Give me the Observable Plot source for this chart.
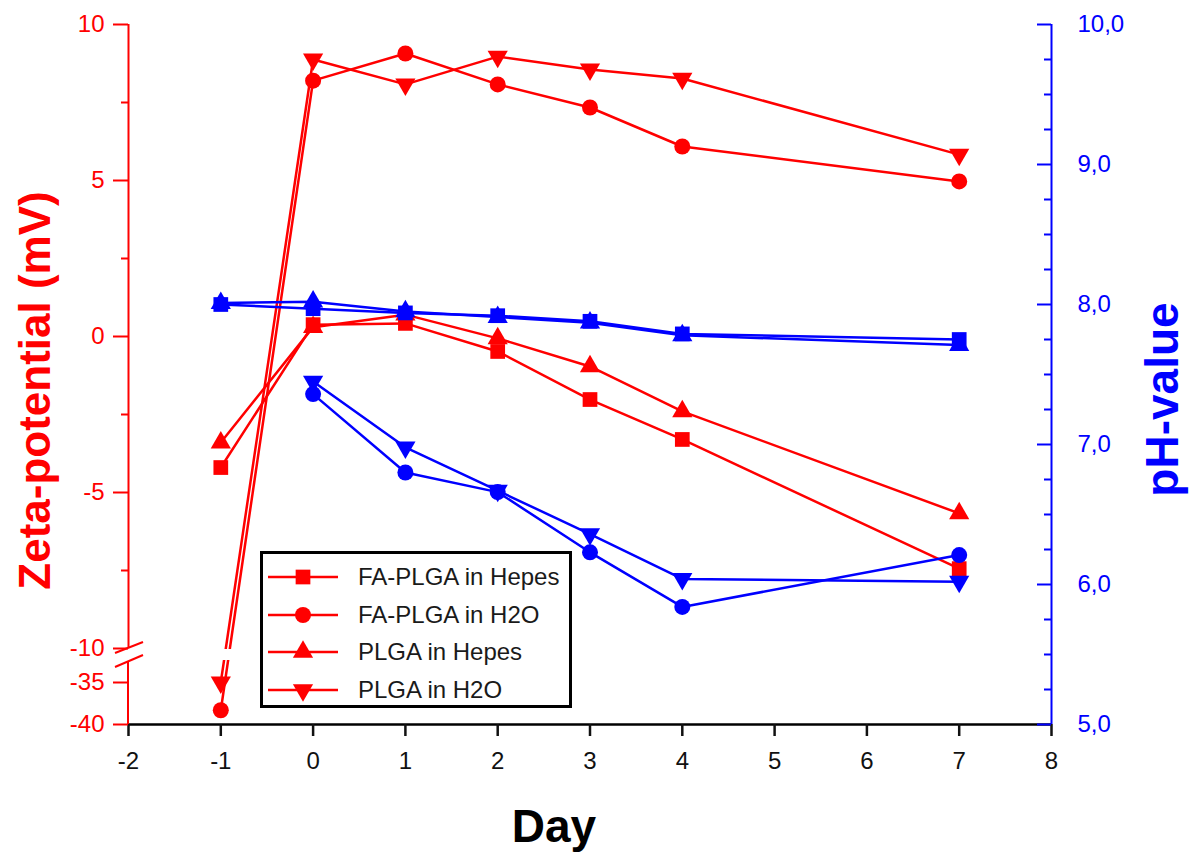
<!DOCTYPE html>
<html>
<head>
<meta charset="utf-8">
<script src="https://cdn.jsdelivr.net/npm/d3@7"></script>
<script src="https://cdn.jsdelivr.net/npm/@observablehq/plot@0.6"></script>
<style>
html, body { margin: 0; padding: 0; background: #fff; }
#wrap { position: relative; width: 1192px; height: 854px; font-family: "Liberation Sans", Arial, sans-serif; }
#wrap svg.plot, #wrap > svg { position: absolute; left: 0; top: 0; }
#legend { position: absolute; left: 260px; top: 551px; width: 312px; height: 157px; box-sizing: border-box;
  border: 3px solid #000; background: #fff; z-index: 5; }
.row { position: absolute; left: 5px; height: 30px; display: flex; align-items: center; }
.row span { font-size: 24px; color: #1a1a1a; margin-left: 20px; white-space: nowrap; }
</style>
</head>
<body>
<div id="wrap"></div>
<script>
// ---------------- data ----------------
const days = [-1, 0, 1, 2, 3, 4, 7];
const seriesNames = ["FA-PLGA in Hepes", "FA-PLGA in H2O", "PLGA in Hepes", "PLGA in H2O"];
const seriesSymbols = ["square", "circle", "triangle", "triangle-down"];

// Zeta-potential (mV), left axis
const zetaFaHepes   = [-4.2, 0.38, 0.42, -0.48, -2.02, -3.3, -7.44];
const zetaFaH2O     = [-38.3, 8.2, 9.07, 8.08, 7.34, 6.09, 4.97];
const zetaPlgaHepes = [-3.4, 0.3, 0.7, -0.06, -0.96, -2.4, -5.67];
const zetaPlgaH2O   = [-34.8, 8.88, 8.08, 8.97, 8.56, 8.27, 5.83];

// pH-value, right axis (no value on day -1 for the H2O samples)
const phFaHepes   = [8.0, 7.97, 7.94, 7.92, 7.88, 7.79, 7.75];
const phFaH2O     = [null, 7.36, 6.80, 6.66, 6.23, 5.84, 6.21];
const phPlgaHepes = [8.01, 8.02, 7.95, 7.91, 7.87, 7.78, 7.71];
const phPlgaH2O   = [null, 7.45, 6.98, 6.67, 6.36, 6.04, 6.02];

// ticks
const xTicks = [-2, -1, 0, 1, 2, 3, 4, 5, 6, 7, 8];
const zetaTicks = [-40, -35, -10, -5, 0, 5, 10];
const zetaMinorTicks = [-7.5, -2.5, 2.5, 7.5];
const zetaBreak = [-10, -35];          // axis break between these values
const phTicks = [5, 6, 7, 8, 9, 10];
const phMinorTicks = [5.25, 5.5, 5.75, 6.25, 6.5, 6.75, 7.25, 7.5, 7.75, 8.25, 8.5, 8.75, 9.25, 9.5, 9.75];

// ---------------- styling ----------------
const RED = "#ff0000", BLUE = "#0000ff";
const W = 1192, H = 854;
const M = {marginLeft: 128, marginRight: 141, marginTop: 24, marginBottom: 130};
const FONT = "Liberation Sans, Arial, sans-serif";
const symR = {"square": 8.3, "circle": 8, "triangle": 7.5, "triangle-down": 7.5};

function rows(vals, name) {
  return days.map((d, i) => ({day: d, v: vals[i], series: name})).filter(r => r.v != null);
}
const zetaSeries = [zetaFaHepes, zetaFaH2O, zetaPlgaHepes, zetaPlgaH2O].map((v, i) => rows(v, seriesNames[i]));
const phSeries = [phFaHepes, phFaH2O, phPlgaHepes, phPlgaH2O].map((v, i) => rows(v, seriesNames[i]));

function seriesMarks(data, idx, color) {
  const s = seriesSymbols[idx];
  return [
    Plot.line(data, {x: "day", y: "v", stroke: color, strokeWidth: 2.5}),
    Plot.dot(data, {x: "day", y: "v", fill: color, stroke: "none",
      symbol: s === "triangle-down" ? "triangle" : s, r: symR[s], rotate: s === "triangle-down" ? 180 : 0})
  ];
}

const yBottomPx = H - M.marginBottom;

// ---------------- main chart: zeta potential ----------------
const zetaOrder = [2, 0, 1, 3];
const breakMark = (index, scales) => {
  const ns = "http://www.w3.org/2000/svg";
  const g = document.createElementNS(ns, "g");
  const x0 = scales.x(-2);
  const yTop = scales.y(zetaBreak[0]);
  const yEnd = scales.y(-40);
  const mk = (tag, attrs) => { const e = document.createElementNS(ns, tag); for (const k in attrs) e.setAttribute(k, attrs[k]); g.appendChild(e); return e; };
  // gap in the data lines crossing the break
  mk("rect", {x: scales.x(-1.5), y: yTop + 1, width: scales.x(-0.5) - scales.x(-1.5), height: 11, fill: "#fff"});
  // lower axis segment
  mk("line", {x1: x0, x2: x0, y1: yTop + 13, y2: yEnd, stroke: RED, "stroke-width": 2});
  // break slashes
  mk("line", {x1: x0 - 13, y1: yTop + 5, x2: x0 + 15, y2: yTop - 6, stroke: RED, "stroke-width": 2});
  mk("line", {x1: x0 - 13, y1: yTop + 19, x2: x0 + 15, y2: yTop + 7, stroke: RED, "stroke-width": 2});
  return g;
};

const main = Plot.plot({
  width: W, height: H, ...M,
  style: {fontFamily: FONT, background: "transparent", overflow: "visible"},
  x: {domain: [-2, 8]},
  y: {type: "linear", domain: [-40, zetaBreak[1], zetaBreak[0], 10], range: [yBottomPx, 682, 648, M.marginTop]},
  marks: [
    // x axis
    Plot.ruleY([-40], {stroke: "#000", strokeWidth: 2.5}),
    Plot.axisX({ticks: xTicks, tickSize: 12, tickPadding: 15, tickFormat: d => String(d), fontSize: 24,
      color: "#111", strokeWidth: 2.5, label: null}),
    // left axis
    Plot.ruleX([-2], {y1: zetaBreak[0], y2: 10, stroke: RED, strokeWidth: 2}),
    Plot.axisY({ticks: zetaTicks, tickSize: 15, tickPadding: 9, tickFormat: d => String(d), fontSize: 24,
      color: RED, strokeWidth: 2, label: null}),
    Plot.axisY({ticks: zetaMinorTicks, tickSize: 7, tickFormat: () => "", color: RED, strokeWidth: 2, label: null}),
    ...zetaOrder.flatMap(i => seriesMarks(zetaSeries[i], i, RED)),
    breakMark,
    Plot.text(["Zeta-potential (mV)"], {text: d => d, frameAnchor: "left", textAnchor: "middle", dx: -93, dy: 16,
      rotate: -90, fontSize: 44, fontWeight: "bold", fill: RED}),
    Plot.text(["Day"], {text: d => d, frameAnchor: "bottom", textAnchor: "middle", dx: -36, dy: 103, lineAnchor: "middle",
      fontSize: 46, fontWeight: "bold", fill: "#000"})
  ]
});

// ---------------- overlay chart: pH ----------------
const phOrder = [0, 1, 2, 3];
const overlay = Plot.plot({
  width: W, height: H, ...M,
  style: {fontFamily: FONT, background: "transparent", overflow: "visible"},
  x: {domain: [-2, 8], axis: null},
  y: {domain: [5, 10]},
  marks: [
    Plot.ruleX([8], {stroke: BLUE, strokeWidth: 2}),
    Plot.axisY({anchor: "right", ticks: phTicks, tickSize: 0, tickPadding: 26, fontSize: 24, color: BLUE,
      tickFormat: d => d.toFixed(1).replace(".", ","), label: null}),
    Plot.axisY({anchor: "left", frameAnchor: "right", ticks: phTicks, tickSize: 14, tickFormat: () => "",
      color: BLUE, strokeWidth: 2, label: null}),
    Plot.axisY({anchor: "left", frameAnchor: "right", ticks: phMinorTicks, tickSize: 7, tickFormat: () => "",
      color: BLUE, strokeWidth: 2, label: null}),
    ...phOrder.flatMap(i => seriesMarks(phSeries[i], i, BLUE)),
    Plot.text(["pH-value"], {text: d => d, frameAnchor: "right", textAnchor: "middle", dx: 112, dy: 25, rotate: -90,
      fontSize: 46, fontWeight: "bold", fill: BLUE})
  ]
});

const wrap = document.getElementById("wrap");
wrap.appendChild(main);
wrap.appendChild(overlay);

// ---------------- legend ----------------
const legend = document.createElement("div");
legend.id = "legend";
const centers = [23, 61, 98, 136];
const d3Sym = {"square": d3.symbolSquare, "circle": d3.symbolCircle, "triangle": d3.symbolTriangle, "triangle-down": d3.symbolTriangle};
seriesNames.forEach((name, i) => {
  const row = document.createElement("div");
  row.className = "row";
  row.style.top = (centers[i] - 15) + "px";
  const s = seriesSymbols[i];
  const path = d3.symbol().type(d3Sym[s]).size(Math.PI * symR[s] * symR[s])();
  row.innerHTML = `<svg width="70" height="30" viewBox="0 0 70 30">
    <line x1="0" x2="70" y1="15" y2="15" stroke="${RED}" stroke-width="2.5"/>
    <path d="${path}" fill="${RED}" transform="translate(35,15)${s === "triangle-down" ? " rotate(180)" : ""}"/>
  </svg><span>${name}</span>`;
  legend.appendChild(row);
});
wrap.appendChild(legend);
</script>
</body>
</html>
